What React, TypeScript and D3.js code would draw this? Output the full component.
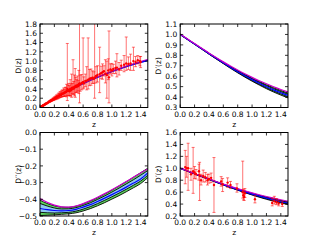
import React from 'react';
import * as d3 from 'd3';

// redshift grid for the reconstructed curves
const zGrid = [0, 0.1, 0.2, 0.3, 0.4, 0.5, 0.6, 0.7, 0.8, 0.9, 1.0, 1.1, 1.2, 1.3, 1.4, 1.5];

// D(z)
const dMean = [0, 0.098, 0.191, 0.279, 0.363, 0.442, 0.517, 0.587, 0.653, 0.715, 0.774, 0.829, 0.881, 0.929, 0.975, 1.018];
const dLo = [0, 0.097, 0.19, 0.277, 0.36, 0.438, 0.512, 0.581, 0.646, 0.707, 0.765, 0.819, 0.87, 0.917, 0.962, 1.004];
const dHi = [0, 0.099, 0.192, 0.281, 0.366, 0.446, 0.522, 0.593, 0.66, 0.723, 0.783, 0.839, 0.892, 0.941, 0.988, 1.032];
const dFid = [0, 0.098, 0.192, 0.28, 0.365, 0.445, 0.521, 0.593, 0.66, 0.723, 0.784, 0.841, 0.894, 0.945, 0.993, 1.038];

// D'(z)
const d1Mean = [1.0, 0.954, 0.908, 0.862, 0.816, 0.771, 0.727, 0.684, 0.643, 0.604, 0.567, 0.532, 0.499, 0.469, 0.441, 0.415];
const d1Hi2 = [1.003, 0.957, 0.911, 0.866, 0.821, 0.777, 0.734, 0.693, 0.654, 0.617, 0.582, 0.549, 0.518, 0.49, 0.463, 0.438];
const d1Hi1 = [1.002, 0.956, 0.91, 0.864, 0.819, 0.774, 0.731, 0.689, 0.649, 0.611, 0.575, 0.541, 0.509, 0.48, 0.452, 0.427];
const d1Lo1 = [0.998, 0.952, 0.906, 0.86, 0.813, 0.768, 0.723, 0.679, 0.637, 0.597, 0.559, 0.523, 0.489, 0.458, 0.43, 0.403];
const d1Lo2 = [0.997, 0.951, 0.905, 0.858, 0.811, 0.765, 0.72, 0.675, 0.632, 0.591, 0.552, 0.515, 0.48, 0.448, 0.419, 0.392];
const d1Fid = [1.004, 0.958, 0.912, 0.867, 0.823, 0.779, 0.737, 0.697, 0.659, 0.623, 0.589, 0.557, 0.527, 0.499, 0.473, 0.449];

// D''(z)
const d2Mean = [-0.455, -0.462, -0.467, -0.469, -0.467, -0.46, -0.447, -0.432, -0.413, -0.393, -0.372, -0.35, -0.327, -0.303, -0.278, -0.242];
const d2Hi2 = [-0.405, -0.425, -0.439, -0.447, -0.448, -0.441, -0.428, -0.411, -0.391, -0.369, -0.345, -0.32, -0.295, -0.268, -0.241, -0.214];
const d2Hi1 = [-0.425, -0.44, -0.452, -0.458, -0.457, -0.45, -0.437, -0.421, -0.401, -0.38, -0.357, -0.333, -0.308, -0.283, -0.256, -0.228];
const d2Lo1 = [-0.478, -0.481, -0.482, -0.481, -0.478, -0.471, -0.459, -0.444, -0.426, -0.406, -0.385, -0.363, -0.34, -0.316, -0.291, -0.256];
const d2Lo2 = [-0.497, -0.495, -0.493, -0.49, -0.487, -0.481, -0.47, -0.456, -0.439, -0.42, -0.399, -0.378, -0.355, -0.331, -0.306, -0.27];
const d2Fid = [-0.395, -0.418, -0.435, -0.445, -0.447, -0.44, -0.426, -0.408, -0.388, -0.366, -0.343, -0.319, -0.294, -0.268, -0.242, -0.218];

// distance data D(z) with error bar extents
const snZ = [0.015, 0.022, 0.028, 0.035, 0.042, 0.05, 0.058, 0.065, 0.075, 0.085, 0.095, 0.105, 0.12, 0.13, 0.14, 0.15, 0.16, 0.17, 0.18, 0.19,
  0.2, 0.21, 0.22, 0.23, 0.24, 0.25, 0.26, 0.27, 0.28, 0.29, 0.3, 0.31, 0.32, 0.33, 0.34, 0.35, 0.36, 0.37, 0.38, 0.39,
  0.4, 0.41, 0.42, 0.43, 0.44, 0.45, 0.46, 0.47, 0.48, 0.49, 0.5, 0.51, 0.52, 0.53, 0.54, 0.55, 0.56, 0.58, 0.6, 0.61,
  0.63, 0.65, 0.67, 0.69, 0.71, 0.73, 0.75, 0.76, 0.78, 0.8, 0.83, 0.85, 0.87, 0.89, 0.91, 0.93, 0.95, 0.96, 0.98, 1.0,
  1.02, 1.05, 1.07, 1.1, 1.13, 1.17, 1.2, 1.23, 1.26, 1.3, 1.33, 1.36, 1.39, 1.4];
const snD = [0.015, 0.021, 0.028, 0.033, 0.042, 0.048, 0.057, 0.062, 0.074, 0.082, 0.094, 0.1, 0.116, 0.128, 0.133, 0.148, 0.152, 0.165, 0.175, 0.18,
  0.195, 0.2, 0.21, 0.225, 0.225, 0.24, 0.25, 0.26, 0.275, 0.27, 0.29, 0.3, 0.3, 0.32, 0.31, 0.33, 0.34, 0.35, 0.4, 0.36,
  0.38, 0.35, 0.4, 0.37, 0.42, 0.4, 0.43, 0.41, 0.45, 0.44, 0.47, 0.45, 0.48, 0.46, 0.5, 0.52, 0.5, 0.53, 0.55, 0.52,
  0.57, 0.58, 0.6, 0.62, 0.63, 0.64, 0.62, 0.65, 0.68, 0.7, 0.72, 0.74, 0.76, 0.78, 0.73, 0.7, 0.8, 0.65, 0.82, 0.8,
  0.83, 0.85, 0.86, 0.82, 0.9, 0.92, 0.95, 0.94, 0.95, 1.0, 0.98, 1.02, 1.0, 0.98];
const snErrLo = [0.003, 0.004, 0.004, 0.005, 0.005, 0.006, 0.007, 0.008, 0.008, 0.01, 0.01, 0.012, 0.012, 0.015, 0.015, 0.018, 0.02, 0.02, 0.025, 0.03,
  0.03, 0.03, 0.04, 0.04, 0.04, 0.05, 0.05, 0.05, 0.06, 0.05, 0.06, 0.07, 0.06, 0.08, 0.07, 0.09, 0.08, 0.12, 0.25, 0.1,
  0.12, 0.1, 0.15, 0.12, 0.2, 0.1, 0.15, 0.12, 0.2, 0.22, 0.15, 0.12, 0.15, 0.1, 0.2, 0.42, 0.15, 0.15, 0.15, 0.1,
  0.12, 0.2, 0.2, 0.15, 0.15, 0.12, 0.1, 0.45, 0.15, 0.15, 0.4, 0.12, 0.15, 0.1, 0.2, 0.5, 0.2, 0.55, 0.1, 0.12,
  0.1, 0.12, 0.2, 0.12, 0.1, 0.15, 0.15, 0.12, 0.15, 0.2, 0.1, 0.08, 0.1, 0.12];
const snErrHi = [0.003, 0.004, 0.004, 0.005, 0.005, 0.006, 0.007, 0.008, 0.008, 0.01, 0.01, 0.012, 0.013, 0.015, 0.016, 0.018, 0.02, 0.022, 0.025, 0.03,
  0.03, 0.035, 0.04, 0.045, 0.04, 0.05, 0.06, 0.05, 0.07, 0.06, 0.07, 0.08, 0.07, 0.1, 0.08, 0.1, 0.1, 0.15, 0.98, 0.12,
  0.14, 0.12, 0.2, 0.14, 0.3, 0.12, 0.6, 0.15, 0.25, 0.4, 0.18, 0.15, 0.2, 0.12, 0.3, 1.5, 0.2, 0.18, 0.95, 0.14,
  0.15, 0.3, 0.9, 0.2, 0.2, 0.15, 0.15, 1.2, 0.2, 0.2, 0.58, 0.15, 0.18, 0.12, 0.3, 0.3, 0.25, 1.0, 0.12, 0.15,
  0.1, 0.15, 0.3, 0.15, 0.12, 0.2, 0.57, 0.15, 0.2, 0.3, 0.12, 0.1, 0.1, 0.12];

// D'(z) data points
const hzZ = [0.07, 0.09, 0.11, 0.15, 0.18, 0.2, 0.22, 0.26, 0.27, 0.29, 0.32, 0.35, 0.38, 0.4, 0.43, 0.47, 0.57, 0.59, 0.66, 0.7,
  0.79, 0.87, 0.88, 0.89, 0.9, 1.04, 1.28, 1.31, 1.34, 1.37, 1.42];
const hzD = [1.02, 1.0, 1.0, 0.9, 0.95, 0.93, 0.9, 0.95, 0.88, 0.8, 0.87, 0.85, 0.8, 0.82, 0.84, 0.72, 0.78, 0.73, 0.76, 0.72,
  0.66, 0.6, 0.55, 0.52, 0.58, 0.48, 0.42, 0.45, 0.43, 0.41, 0.4];
const hzErrLo = [0.28, 0.15, 0.37, 0.1, 0.37, 0.1, 0.08, 0.15, 0.42, 0.08, 0.1, 0.08, 0.08, 0.07, 0.08, 0.46, 0.08, 0.12, 0.08, 0.06,
  0.06, 0.1, 0.08, 0.06, 0.07, 0.06, 0.05, 0.05, 0.04, 0.04, 0.04];
const hzErrHi = [0.28, 0.2, 0.42, 0.1, 0.4, 0.1, 0.08, 0.12, 0.22, 0.1, 0.1, 0.08, 0.1, 0.08, 0.08, 0.46, 0.08, 0.1, 0.08, 0.06,
  0.08, 0.52, 0.1, 0.08, 0.08, 0.06, 0.08, 0.08, 0.06, 0.05, 0.04];

const xTicks = [0, 0.2, 0.4, 0.6, 0.8, 1.0, 1.2, 1.4];
const tlYTicks = [0, 0.2, 0.4, 0.6, 0.8, 1.0, 1.2, 1.4, 1.6, 1.8];
const trYTicks = [0.3, 0.4, 0.5, 0.6, 0.7, 0.8, 0.9, 1.0, 1.1];
const blYTicks = [-0.5, -0.4, -0.3, -0.2, -0.1, 0.0];
const brYTicks = [0.2, 0.4, 0.6, 0.8, 1.0, 1.2, 1.4, 1.6];

const FONT = 'DejaVu Sans';
const fmt = d3.format('.1f');

type Band = { lo2: number[]; lo1: number[]; mean: number[]; hi1: number[]; hi2: number[]; fid: number[] };
type Pts = { z: number[]; v: number[]; lo: number[]; hi: number[] };

const Panel = ({ id, x0, x1, y0, y1, yDomain, yTicks, yLabel, band, pts, narrow }: {
  id: string; x0: number; x1: number; y0: number; y1: number; yDomain: [number, number]; yTicks: number[];
  yLabel: string; band: Band; pts?: Pts; narrow?: boolean;
}) => {
  const x = d3.scaleLinear().domain([0, 1.5]).range([x0, x1]);
  const y = d3.scaleLinear().domain(yDomain).range([y1, y0]);
  const line = (arr: number[]) => d3.line<number>().x((_, i) => x(zGrid[i])).y(d => y(d)).curve(d3.curveMonotoneX)(arr) || '';
  const area = (lo: number[], hi: number[]) => d3.area<number>().x((_, i) => x(zGrid[i])).y0(d => y(d)).y1((_, i) => y(hi[i])).curve(d3.curveMonotoneX)(lo) || '';
  const tick = 3;
  return (
    <g>
      <defs>
        <clipPath id={id}><rect x={x0} y={y0} width={x1 - x0} height={y1 - y0} /></clipPath>
      </defs>
      <g clipPath={`url(#${id})`}>
        {narrow ? (
          <g>
            <path d={area(band.lo2, band.hi2)} fill="#3a3ad0" />
            <path d={line(band.mean)} fill="none" stroke="#0000ff" strokeWidth={1.5} />
            <path d={line(band.fid)} fill="none" stroke="#c000c0" strokeWidth={1} />
          </g>
        ) : (
          <g>
            <path d={area(band.lo2, band.hi2)} fill="#5fd85f" />
            <path d={area(band.lo1, band.hi1)} fill="#8ec9f0" />
            {[band.lo2, band.hi2, band.lo1, band.hi1].map((a, i) => (
              <path key={i} d={line(a)} fill="none" stroke="#000" strokeWidth={0.9} />
            ))}
            <path d={line(band.mean)} fill="none" stroke="#0000ff" strokeWidth={1.2} />
            <path d={line(band.fid)} fill="none" stroke="#cc00cc" strokeWidth={1.2} />
          </g>
        )}
        {pts && pts.z.map((z, i) => {
          const cx = x(z);
          const top = y(pts.v[i] + pts.hi[i]);
          const bot = y(pts.v[i] - pts.lo[i]);
          return (
            <g key={i}>
              <line x1={cx} x2={cx} y1={top} y2={bot} stroke="#ff0000" strokeOpacity={0.55} strokeWidth={1} />
              <line x1={cx - 1.5} x2={cx + 1.5} y1={top} y2={top} stroke="#ff0000" strokeOpacity={0.55} strokeWidth={1} />
              <line x1={cx - 1.5} x2={cx + 1.5} y1={bot} y2={bot} stroke="#ff0000" strokeOpacity={0.55} strokeWidth={1} />
              <circle cx={cx} cy={y(pts.v[i])} r={1.2} fill="#ff0000" />
            </g>
          );
        })}
      </g>
      {xTicks.map(t => (
        <g key={'x' + t}>
          <line x1={x(t)} x2={x(t)} y1={y1} y2={y1 - tick} stroke="#000" strokeWidth={0.8} />
          <line x1={x(t)} x2={x(t)} y1={y0} y2={y0 + tick} stroke="#000" strokeWidth={0.8} />
          <text x={x(t)} y={y1 + 9} fontSize={7.5} fontFamily={FONT} textAnchor="middle">{fmt(t)}</text>
        </g>
      ))}
      {yTicks.map(t => (
        <g key={'y' + t}>
          <line x1={x0} x2={x0 + tick} y1={y(t)} y2={y(t)} stroke="#000" strokeWidth={0.8} />
          <line x1={x1} x2={x1 - tick} y1={y(t)} y2={y(t)} stroke="#000" strokeWidth={0.8} />
          <text x={x0 - 3} y={y(t) + 2.7} fontSize={7.5} fontFamily={FONT} textAnchor="end">{fmt(t)}</text>
        </g>
      ))}
      <rect x={x0} y={y0} width={x1 - x0} height={y1 - y0} fill="none" stroke="#000" strokeWidth={1} />
      <text x={(x0 + x1) / 2} y={y1 + 19} fontSize={7.5} fontFamily={FONT} textAnchor="middle">z</text>
      <text transform={`translate(${x0 - 19},${(y0 + y1) / 2}) rotate(-90)`} fontSize={7.5} fontFamily={FONT} textAnchor="middle">{yLabel}</text>
    </g>
  );
};

const App = () => {
  const bandD = { lo2: dLo, lo1: dLo, mean: dMean, hi1: dHi, hi2: dHi, fid: dFid };
  const band1 = { lo2: d1Lo2, lo1: d1Lo1, mean: d1Mean, hi1: d1Hi1, hi2: d1Hi2, fid: d1Fid };
  const band2 = { lo2: d2Lo2, lo1: d2Lo1, mean: d2Mean, hi1: d2Hi1, hi2: d2Hi2, fid: d2Fid };
  const L0 = 40, L1 = 147.8, R0 = 180.2, R1 = 288;
  const T0 = 24, T1 = 107.5, B0 = 132.5, B1 = 216;
  return (
    <svg width={320} height={240} style={{ position: 'absolute', left: 0, top: 0, background: '#fff' }}>
      <Panel id="c1" x0={L0} x1={L1} y0={T0} y1={T1} yDomain={[0, 1.8]} yTicks={tlYTicks} yLabel="D(z)" band={bandD} narrow
        pts={{ z: snZ, v: snD, lo: snErrLo, hi: snErrHi }} />
      <Panel id="c2" x0={R0} x1={R1} y0={T0} y1={T1} yDomain={[0.3, 1.1]} yTicks={trYTicks} yLabel="D′(z)" band={band1} />
      <Panel id="c3" x0={L0} x1={L1} y0={B0} y1={B1} yDomain={[-0.5, 0]} yTicks={blYTicks} yLabel="D′′(z)" band={band2} />
      <Panel id="c4" x0={R0} x1={R1} y0={B0} y1={B1} yDomain={[0.2, 1.6]} yTicks={brYTicks} yLabel="D′(z)" band={band1}
        pts={{ z: hzZ, v: hzD, lo: hzErrLo, hi: hzErrHi }} />
    </svg>
  );
};

export default App;
